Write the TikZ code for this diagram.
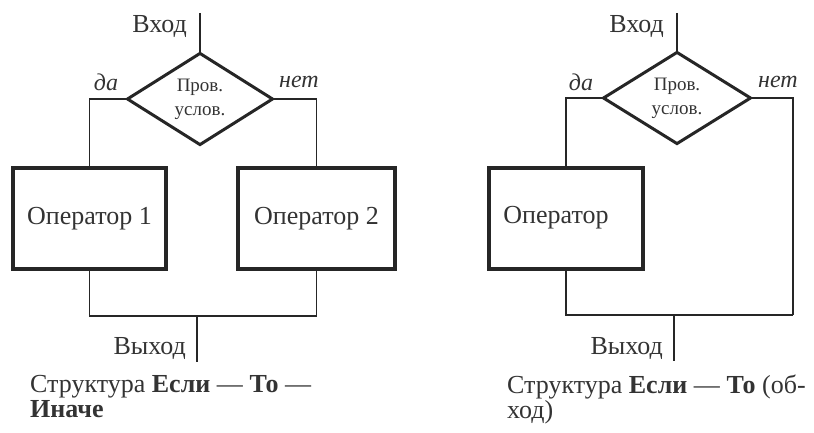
\documentclass[tikz,border=0pt]{standalone}
\usepackage{fontspec}
\setmainfont{Liberation Serif}
\usetikzlibrary{shapes.geometric}
\definecolor{ink}{HTML}{262626}
\definecolor{txt}{HTML}{333333}
\begin{document}
\begin{tikzpicture}[x=1pt,y=-1pt,
  flow/.style={draw=ink, line width=1.4pt},
  opbox/.style={draw=ink, line width=3.2pt, minimum width=153pt, minimum height=101pt,
    inner sep=0pt, text=txt, font=\fontsize{26}{30}\selectfont},
  cond/.style={draw=ink, diamond, line width=3pt, inner sep=0pt, outer sep=0pt,
    minimum width=145pt, minimum height=91pt, align=center, text=txt,
    font=\fontsize{19}{24}\selectfont},
  lbl/.style={text=txt, inner sep=0pt, font=\fontsize{26}{30}\selectfont},
  ans/.style={text=txt, inner sep=0pt, font=\fontsize{24}{28}\selectfont\itshape},
  capt/.style={text=txt, inner sep=0pt, align=left, font=\fontsize{26}{25}\selectfont}]
\useasboundingbox (0,0) rectangle (814,433);

% ---- If -- Then -- Else ----
\coordinate (in1) at (200,13);
\node[cond] (d1) at (200,99) {Пров.\\услов.};
\node[opbox] (op1) at (89.5,218.5) {Оператор 1};
\node[opbox, minimum width=157pt] (op2) at (316.5,218.5) {Оператор 2};
\coordinate (m1) at (197,316);
\coordinate (out1) at (197,362);
\draw[flow] (in1) -- (d1.north);
\draw[flow] (d1.west) -| (op1.north);
\draw[flow] (d1.east) -| (op2.north);
\draw[flow] (op1.south) |- (m1) -| (op2.south);
\draw[flow] (m1) -- (out1);
\node[lbl, anchor=east] (vh1) at (187,27) {Вход};
\node[lbl, anchor=east] (vy1) at (186,348) {Выход};
\node[ans] (yes1) at (106,82) {да};
\node[ans] (no1) at (299,82) {нет};
\node[capt, anchor=north west] (cap1) at (30,375)
  {Структура \textbf{Если} --- \textbf{То} ---\\\textbf{Иначе}};

% ---- If -- Then (bypass) ----
\coordinate (in2) at (677,13);
\node[cond, minimum width=147pt, minimum height=90pt] (d2) at (677,98) {Пров.\\услов.};
\node[opbox, minimum width=154pt] (op3) at (566,218.5) {};
\node[lbl] (op3t) at (556,218) {Оператор};
\coordinate (c2) at (793,315);
\coordinate (m2) at (674,315);
\coordinate (out2) at (674,361);
\draw[flow] (in2) -- (d2.north);
\draw[flow] (d2.west) -| (op3.north);
\draw[flow] (d2.east) -| (c2);
\draw[flow] (op3.south) |- (c2);
\draw[flow] (m2) -- (out2);
\node[lbl, anchor=east] (vh2) at (664,27) {Вход};
\node[lbl, anchor=east] (vy2) at (663,348) {Выход};
\node[ans] (yes2) at (581,82) {да};
\node[ans] (no2) at (778,82) {нет};
\node[capt, anchor=north west] (cap2) at (507,375)
  {Структура \textbf{Если} --- \textbf{То} (об-\\ход)};
\end{tikzpicture}
\end{document}
